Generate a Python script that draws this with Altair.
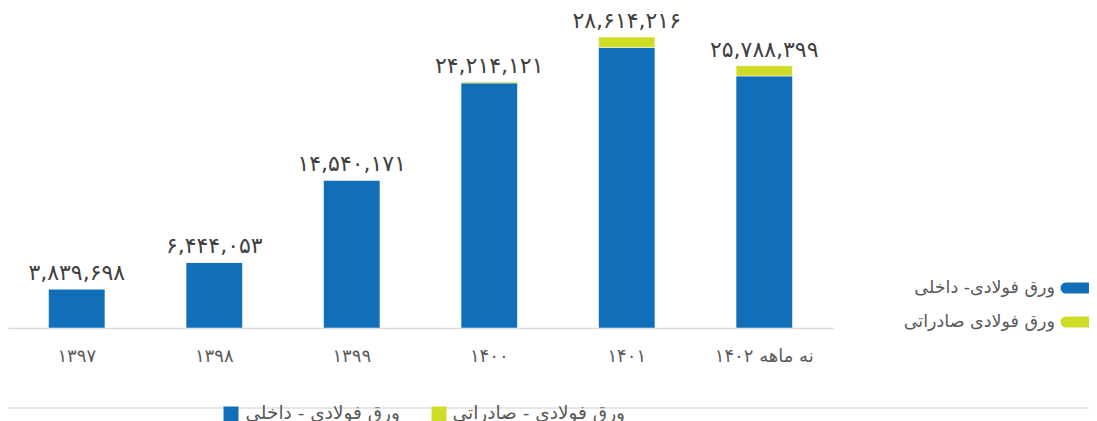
import altair as alt
import pandas as pd

years = ["۱۳۹۷", "۱۳۹۸", "۱۳۹۹", "۱۴۰۰", "۱۴۰۱", "نه ماهه ۱۴۰۲"]
domestic = [3839698, 6444053, 14540171, 24100000, 27600000, 24790000]
export = [0, 0, 0, 114121, 1014216, 998399]
totals = [3839698, 6444053, 14540171, 24214121, 28614216, 25788399]
total_labels = ["۳,۸۳۹,۶۹۸", "۶,۴۴۴,۰۵۳", "۱۴,۵۴۰,۱۷۱", "۲۴,۲۱۴,۱۲۱", "۲۸,۶۱۴,۲۱۶", "۲۵,۷۸۸,۳۹۹"]
series = ["ورق فولادی- داخلی", "ورق فولادی صادراتی"]
series_bottom = ["ورق فولادی - داخلی", "ورق فولادی - صادراتی"]
colors = ["#116EB8", "#CFDC26"]

FONT = "DejaVu Sans"

rows = []
for i, y in enumerate(years):
    rows.append({"year": y, "series": series[0], "value": domestic[i], "ord": 0})
    rows.append({"year": y, "series": series[1], "value": export[i], "ord": 1})
bars_df = pd.DataFrame(rows)
labels_df = pd.DataFrame({"year": years, "total": totals, "label": total_labels})

xenc = alt.X("year:N", sort=years, title=None,
             scale=alt.Scale(paddingInner=0.59, paddingOuter=0.295),
             axis=alt.Axis(labelAngle=0, ticks=False, domainColor="#D9D9D9", domainWidth=1.5,
                           labelPadding=19, labelFontSize=18, labelColor="#595959",
                           labelFont=FONT, labelFontWeight="normal", grid=False))

bars = alt.Chart(bars_df).mark_bar(stroke="white", strokeWidth=0.5).encode(
    x=xenc,
    y=alt.Y("value:Q", stack="zero", scale=alt.Scale(domain=[0, 30000000], nice=False), axis=None),
    color=alt.Color("series:N", scale=alt.Scale(domain=series, range=colors), legend=None),
    order=alt.Order("ord:Q"),
)

texts = alt.Chart(labels_df).mark_text(baseline="bottom", dy=-4, fontSize=22,
                                       color="#404040", font=FONT).encode(
    x=alt.X("year:N", sort=years),
    y=alt.Y("total:Q"),
    text="label:N",
)

# right legend
leg_df = pd.DataFrame({"name": series, "color": colors, "ypos": [265, 299]})
leg_pill = alt.Chart(leg_df).mark_rule(strokeWidth=11, strokeCap="round").encode(
    x=alt.value(1058), x2=alt.value(1082),
    y=alt.Y("ypos:Q", scale=None),
    color=alt.Color("color:N", scale=None),
)
leg_text = alt.Chart(leg_df).mark_text(align="right", baseline="middle", fontSize=17.5,
                                       color="#595959", font=FONT).encode(
    x=alt.value(1047),
    y=alt.Y("ypos:Q", scale=None),
    text="name:N",
)

# bottom separator line and legend
sep = alt.Chart(pd.DataFrame({"a": [0]})).mark_rule(color="#E6E6E6", strokeWidth=2).encode(
    x=alt.value(-8), x2=alt.value(1090), y=alt.value(385)
)
bleg_df = pd.DataFrame({"name": series_bottom, "color": colors, "xs": [223, 431], "xt": [392, 617]})
bleg_sq = alt.Chart(bleg_df).mark_square(size=225, opacity=1).encode(
    x=alt.X("xs:Q", scale=None),
    y=alt.value(391),
    color=alt.Color("color:N", scale=None),
)
bleg_text = alt.Chart(bleg_df).mark_text(align="right", baseline="middle", fontSize=18.5,
                                         color="#595959", font=FONT).encode(
    x=alt.X("xt:Q", scale=None),
    y=alt.value(390),
    text="name:N",
)

chart = alt.layer(bars, texts, leg_pill, leg_text, sep, bleg_sq, bleg_text).properties(
    width=825, height=305,
    autosize=alt.AutoSizeParams(type="none"),
    padding={"left": 0, "top": 15, "right": 256, "bottom": 100},
).configure_view(stroke=None)

chart.save("out.html", embed_options={"renderer": "svg", "actions": False})
